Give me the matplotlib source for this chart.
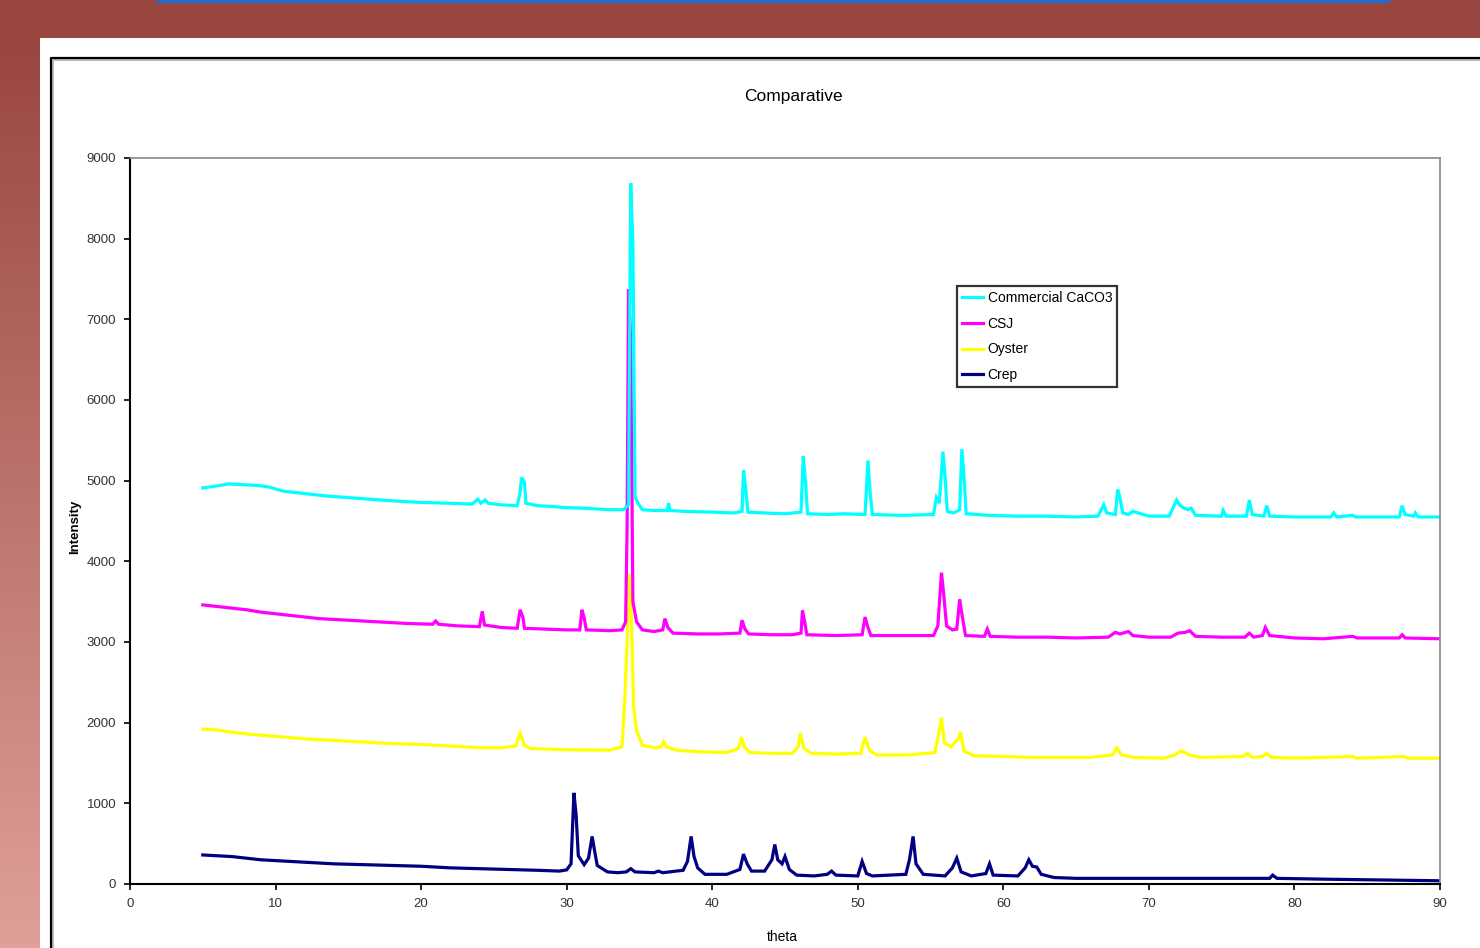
import numpy as np
import matplotlib
matplotlib.use("Agg")
import matplotlib.pyplot as plt
from matplotlib.lines import Line2D
from matplotlib.patches import Rectangle

# data (theta, intensity)
commercial_theta = [5.0, 5.8, 6.8, 7.8, 8.8, 9.6, 10.5, 11.5, 12.5, 13.5, 15.0, 16.5, 18.0, 20.0, 22.0, 23.5,
                    23.9, 24.1, 24.4, 24.6, 25.5, 26.6, 26.8, 26.9, 27.1, 27.2, 28.0, 29.0, 30.0, 31.0, 32.0,
                    33.0, 33.9, 34.25, 34.4, 34.55, 34.7, 34.9, 35.2, 36.0, 36.9, 37.0, 37.1, 38.0, 40.0, 41.5,
                    42.05, 42.15, 42.3, 42.45, 43.5, 45.0, 46.1, 46.25, 46.4, 46.55, 48.0, 49.0, 50.5, 50.7,
                    50.85, 51.0, 53.0, 55.2, 55.4, 55.6, 55.85, 56.0, 56.15, 56.6, 57.0, 57.15, 57.3, 57.45,
                    59.0, 61.0, 63.0, 65.0, 66.5, 66.9, 67.1, 67.7, 67.85, 68.0, 68.2, 68.6, 68.9, 70.0, 71.4,
                    71.9, 72.1, 72.4, 72.7, 72.9, 73.2, 75.0, 75.1, 75.3, 76.7, 76.9, 77.1, 77.9, 78.1, 78.3,
                    80.0, 82.5, 82.7, 82.9, 84.0, 84.2, 87.2, 87.4, 87.6, 88.2, 88.3, 88.5, 90.0]
commercial_int = [4910, 4930, 4960, 4950, 4940, 4920, 4870, 4850, 4830, 4810, 4790, 4770, 4750, 4730, 4720, 4710,
                  4770, 4720, 4760, 4720, 4700, 4690, 4850, 5040, 4980, 4720, 4690, 4680, 4665, 4660, 4650,
                  4640, 4640, 4700, 8690, 7920, 4800, 4720, 4640, 4630, 4630, 4720, 4630, 4620, 4610, 4600,
                  4620, 5130, 4900, 4610, 4600, 4590, 4610, 5300, 5000, 4590, 4580, 4590, 4580, 5250,
                  4850, 4580, 4570, 4580, 4790, 4720, 5360, 5040, 4620, 4600, 4640, 5390, 5040, 4590,
                  4570, 4560, 4560, 4550, 4560, 4700, 4600, 4580, 4890, 4800, 4600, 4580, 4620, 4560, 4560,
                  4760, 4700, 4660, 4640, 4660, 4570, 4560, 4630, 4560, 4560, 4760, 4580, 4560, 4690, 4560,
                  4550, 4550, 4600, 4550, 4570, 4550, 4550, 4690, 4580, 4560, 4600, 4550, 4550]

csj_theta = [5.0, 6.0, 7.0, 8.0, 9.0, 10.0, 11.5, 13.0, 15.0, 17.0, 19.0, 20.8, 21.0, 21.2, 22.5, 24.0, 24.2,
             24.35, 25.5, 26.6, 26.8, 27.0, 27.1, 28.5, 30.0, 30.9, 31.05, 31.2, 31.35, 33.0, 33.8, 34.05,
             34.15, 34.25, 34.4, 34.55, 34.8, 35.2, 36.0, 36.6, 36.75, 36.95, 37.3, 39.0, 40.5, 41.9, 42.05,
             42.25, 42.5, 44.0, 45.5, 46.1, 46.2, 46.35, 46.5, 48.5, 50.3, 50.5, 50.7, 50.9, 53.0, 55.2, 55.5,
             55.75, 55.9, 56.1, 56.5, 56.8, 57.0, 57.15, 57.4, 58.7, 58.9, 59.1, 61.0, 63.0, 65.0, 67.2, 67.7,
             68.0, 68.6, 68.9, 70.0, 71.5, 72.0, 72.5, 72.8, 73.2, 75.0, 76.6, 76.9, 77.2, 77.8, 78.0, 78.3,
             80.0, 82.0, 84.0, 84.3, 87.2, 87.4, 87.6, 90.0]
csj_int = [3460, 3440, 3420, 3400, 3370, 3350, 3320, 3290, 3270, 3250, 3230, 3220, 3260, 3220, 3200, 3190, 3380,
           3210, 3180, 3170, 3400, 3300, 3170, 3160, 3150, 3150, 3400, 3300, 3150, 3140, 3150, 3250,
           4400, 7370, 6750, 3500, 3250, 3150, 3130, 3150, 3290, 3180, 3110, 3100, 3100, 3110, 3270,
           3160, 3100, 3090, 3090, 3110, 3390, 3250, 3090, 3080, 3090, 3310, 3180, 3080, 3080, 3080, 3200,
           3860, 3600, 3200, 3150, 3160, 3530, 3350, 3080, 3070, 3160, 3070, 3060, 3060, 3050, 3060, 3120,
           3100, 3130, 3080, 3060, 3060, 3110, 3120, 3140, 3070, 3060, 3060, 3110, 3060, 3080, 3180, 3080,
           3050, 3040, 3070, 3050, 3050, 3090, 3050, 3040]

oyster_theta = [5.0, 6.0, 7.0, 8.0, 10.0, 12.0, 14.0, 16.0, 18.0, 20.0, 22.0, 24.0, 25.5, 26.5, 26.8, 27.1,
                27.5, 29.0, 31.0, 33.0, 33.8, 34.0, 34.15, 34.3, 34.45, 34.6, 34.8, 35.2, 36.0, 36.5, 36.65,
                36.85, 37.5, 39.0, 41.0, 41.8, 42.0, 42.2, 42.6, 44.0, 45.5, 45.9, 46.05, 46.3, 46.8, 48.5,
                50.2, 50.5, 50.8, 51.3, 53.5, 55.3, 55.6, 55.75, 55.95, 56.4, 56.9, 57.05, 57.3, 58.0, 60.0,
                62.0, 64.0, 66.0, 67.5, 67.8, 68.1, 69.0, 71.0, 71.8, 72.2, 72.8, 73.5, 76.5, 76.8, 77.1,
                77.8, 78.1, 78.4, 80.0, 84.0, 84.3, 87.5, 87.8, 90.0]
oyster_int = [1920, 1910, 1880, 1860, 1830, 1800, 1780, 1760, 1740, 1730, 1710, 1690, 1690, 1710, 1870, 1720,
              1680, 1670, 1660, 1660, 1700, 2300, 3000, 3850, 3300, 2200, 1900, 1720, 1690, 1700, 1760,
              1700, 1660, 1640, 1630, 1680, 1820, 1700, 1630, 1620, 1620, 1700, 1870, 1680, 1620, 1610,
              1620, 1820, 1660, 1600, 1600, 1630, 1900, 2060, 1750, 1700, 1800, 1880, 1650, 1590, 1580,
              1570, 1570, 1570, 1600, 1690, 1600, 1570, 1560, 1600, 1650, 1600, 1570, 1580, 1620, 1570,
              1580, 1620, 1570, 1560, 1580, 1560, 1580, 1560, 1560]

crep_theta = [5.0, 6.0, 7.0, 8.0, 9.0, 10.0, 12.0, 14.0, 16.0, 18.0, 20.0, 22.0, 24.0, 26.0, 28.0, 29.5, 30.0,
              30.3, 30.5, 30.65, 30.8, 31.2, 31.5, 31.75, 31.9, 32.1, 32.8, 33.5, 34.1, 34.4, 34.7, 36.0,
              36.3, 36.6, 38.0, 38.3, 38.55, 38.75, 39.0, 39.5, 41.0, 41.9, 42.15, 42.4, 42.7, 43.6, 44.1,
              44.3, 44.5, 44.8, 45.0, 45.3, 45.8, 47.0, 47.9, 48.2, 48.5, 50.0, 50.3, 50.6, 51.0, 53.3,
              53.55, 53.8, 54.0, 54.5, 56.0, 56.5, 56.8, 57.1, 57.8, 58.8, 59.05, 59.3, 61.0, 61.5, 61.75,
              62.0, 62.3, 62.6, 63.5, 65.0, 70.0, 75.0, 78.3, 78.5, 78.8, 82.0, 86.0, 90.0]
crep_int = [360, 350, 340, 320, 300, 290, 270, 250, 240, 230, 220, 200, 190, 180, 170, 160, 175,
            250, 1130, 850, 350, 240, 320, 590, 430, 230, 150, 140, 150, 190, 150, 140,
            160, 140, 170, 280, 590, 340, 200, 120, 120, 180, 370, 250, 160, 160, 300,
            490, 300, 250, 340, 180, 110, 100, 120, 160, 110, 100, 280, 130, 100, 120,
            300, 590, 250, 120, 100, 200, 320, 150, 100, 130, 250, 110, 100, 200, 300,
            220, 210, 120, 80, 70, 70, 70, 70, 110, 70, 60, 50, 40]

series_names = ["Commercial CaCO3", "CSJ", "Oyster", "Crep"]
series_colors = ["#00FFFF", "#FF00FF", "#FFFF00", "#000080"]

x_ticks = list(range(0, 91, 10))
y_ticks = list(range(0, 9001, 1000))

font = ["Liberation Sans Narrow", "Liberation Sans", "DejaVu Sans"]

fig = plt.figure(figsize=(14.8, 9.48), dpi=100)

# background gradient (dark red top, pink lower left)
bg = fig.add_axes([0, 0, 1, 1], zorder=-10)
grad = np.linspace(0, 1, 256).reshape(-1, 1)
top_c = np.array([0x9a, 0x46, 0x40]) / 255
bot_c = np.array([0xdf, 0xa0, 0x9a]) / 255
img = top_c + (bot_c - top_c) * np.clip((grad - 0.04) / 0.96, 0, 1)[..., None]
bg.imshow(img.reshape(256, 1, 3), aspect="auto", extent=[0, 1, 0, 1], origin="upper")
bg.axis("off")
bg.set_xlim(0, 1)
bg.set_ylim(0, 1)

# white slide panel, blue bar and chart frame
fig.patches.append(Rectangle((40 / 1480, 0), 1, (948 - 38) / 948, transform=fig.transFigure,
                             facecolor="white", edgecolor="none", zorder=-5))
fig.patches.append(Rectangle((157 / 1480, (948 - 3) / 948), (1390 - 157) / 1480, 3 / 948,
                             transform=fig.transFigure, facecolor="#1a6fd0", edgecolor="none", zorder=-4))
fx, fy = 51 / 1480, (948 - 58) / 948
fig.lines.append(Line2D([fx + 0.0012, fx + 0.0012, 1], [0, fy - 0.0018, fy - 0.0018],
                        transform=fig.transFigure, color="#bbbbbb", lw=1.5))
fig.lines.append(Line2D([fx, fx, 1], [0, fy, fy], transform=fig.transFigure, color="black", lw=1.6))

ax = fig.add_axes([130 / 1480, (948 - 884) / 948, (1440 - 130) / 1480, (884 - 158) / 948])
ax.set_facecolor("white")

data = [(commercial_theta, commercial_int), (csj_theta, csj_int),
        (oyster_theta, oyster_int), (crep_theta, crep_int)]
# draw bottom series first so the upper ones overlay like the original
for (tx, ty), name, col in reversed(list(zip(data, series_names, series_colors))):
    ax.plot(tx, ty, color=col, lw=2.3, label=name, solid_joinstyle="miter")

ax.set_xlim(0, 90)
ax.set_ylim(0, 9000)
ax.set_xticks(x_ticks)
ax.set_yticks(y_ticks)
ax.set_xticklabels([str(v) for v in x_ticks], family=font, fontsize=9.5, color="#333333")
ax.set_yticklabels([str(v) for v in y_ticks], family=font, fontsize=9.5, color="#333333")
ax.tick_params(direction="out", length=4, width=1.2, pad=6, colors="black", labelcolor="#333333")

for side in ["left", "bottom"]:
    ax.spines[side].set_color("black")
    ax.spines[side].set_linewidth(1.5)
for side in ["top", "right"]:
    ax.spines[side].set_color("#888888")
    ax.spines[side].set_linewidth(1.2)

handles, labels = ax.get_legend_handles_labels()
order = [labels.index(n) for n in series_names]
leg = ax.legend([handles[i] for i in order], [labels[i] for i in order],
                loc="upper left", bbox_to_anchor=((957 - 130) / 1310, (884 - 286) / 726),
                prop={"family": font, "size": 10}, frameon=True, fancybox=False,
                handlelength=1.5, handletextpad=0.35, labelspacing=0.85, borderpad=0.35,
                borderaxespad=0)
leg.get_frame().set_edgecolor("black")
leg.get_frame().set_linewidth(1.6)

fig.text(793 / 1480, (948 - 96) / 948, "Comparative", ha="center", va="center",
         family=font, fontsize=12.5)
fig.text(782 / 1480, (948 - 937) / 948, "theta", ha="center", va="center",
         family=font, fontsize=10)
fig.text(75 / 1480, (948 - 527) / 948, "Intensity", ha="center", va="center", rotation=90,
         family=font, fontsize=9.5, fontweight="bold")

fig.savefig("out.png", dpi=100)
